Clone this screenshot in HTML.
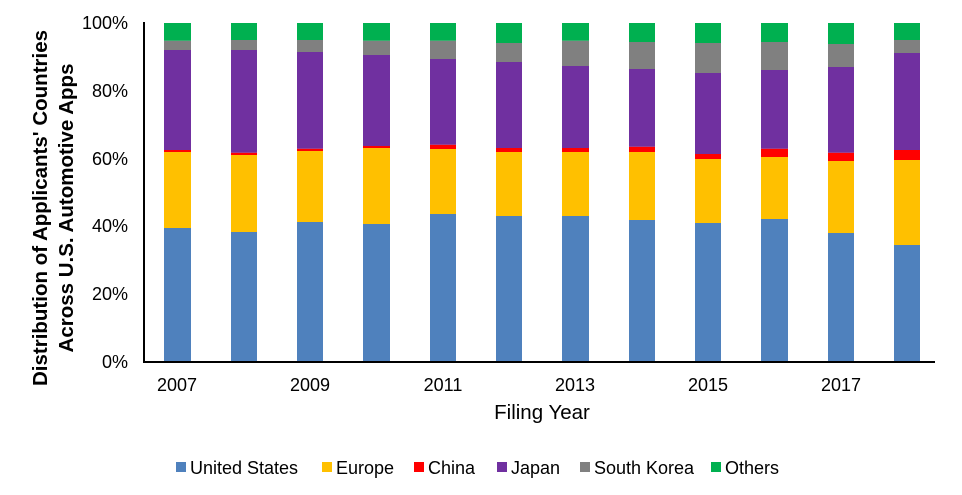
<!DOCTYPE html>
<html><head><meta charset="utf-8"><style>body{margin:0;background:#fff}svg{display:block;font-family:"Liberation Sans",Arial,sans-serif}</style></head><body>
<svg width="962" height="495" viewBox="0 0 962 495">
<g font-size="18" fill="#000" text-anchor="end">
<text x="128" y="29">100%</text><text x="128" y="97">80%</text><text x="128" y="165">60%</text><text x="128" y="232">40%</text><text x="128" y="300">20%</text><text x="128" y="368">0%</text>
</g>
<g>
<rect x="164" y="228" width="27" height="134" fill="#4f81bd"/><rect x="164" y="152" width="27" height="76" fill="#ffc000"/><rect x="164" y="150" width="27" height="2" fill="#ff0000"/><rect x="164" y="50" width="27" height="100" fill="#7030a0"/><rect x="164" y="40.7" width="27" height="9.3" fill="#808080"/><rect x="164" y="23" width="27" height="17.7" fill="#00b050"/>
<rect x="231" y="232" width="26" height="130" fill="#4f81bd"/><rect x="231" y="155" width="26" height="77" fill="#ffc000"/><rect x="231" y="152.7" width="26" height="2.3" fill="#ff0000"/><rect x="231" y="50" width="26" height="102.7" fill="#7030a0"/><rect x="231" y="40" width="26" height="10" fill="#808080"/><rect x="231" y="23" width="26" height="17" fill="#00b050"/>
<rect x="297" y="222" width="26" height="140" fill="#4f81bd"/><rect x="297" y="151" width="26" height="71" fill="#ffc000"/><rect x="297" y="148.7" width="26" height="2.3" fill="#ff0000"/><rect x="297" y="52" width="26" height="96.7" fill="#7030a0"/><rect x="297" y="40" width="26" height="12" fill="#808080"/><rect x="297" y="23" width="26" height="17" fill="#00b050"/>
<rect x="363" y="224" width="27" height="138" fill="#4f81bd"/><rect x="363" y="148" width="27" height="76" fill="#ffc000"/><rect x="363" y="146" width="27" height="2" fill="#ff0000"/><rect x="363" y="55" width="27" height="91" fill="#7030a0"/><rect x="363" y="40.7" width="27" height="14.3" fill="#808080"/><rect x="363" y="23" width="27" height="17.7" fill="#00b050"/>
<rect x="430" y="214" width="26" height="148" fill="#4f81bd"/><rect x="430" y="149" width="26" height="65" fill="#ffc000"/><rect x="430" y="144.7" width="26" height="4.3" fill="#ff0000"/><rect x="430" y="59" width="26" height="85.7" fill="#7030a0"/><rect x="430" y="40.7" width="26" height="18.3" fill="#808080"/><rect x="430" y="23" width="26" height="17.7" fill="#00b050"/>
<rect x="496" y="216" width="26" height="146" fill="#4f81bd"/><rect x="496" y="152" width="26" height="64" fill="#ffc000"/><rect x="496" y="148" width="26" height="4" fill="#ff0000"/><rect x="496" y="62" width="26" height="86" fill="#7030a0"/><rect x="496" y="43" width="26" height="19" fill="#808080"/><rect x="496" y="23" width="26" height="20" fill="#00b050"/>
<rect x="562" y="216" width="27" height="146" fill="#4f81bd"/><rect x="562" y="152" width="27" height="64" fill="#ffc000"/><rect x="562" y="148" width="27" height="4" fill="#ff0000"/><rect x="562" y="66" width="27" height="82" fill="#7030a0"/><rect x="562" y="40.7" width="27" height="25.3" fill="#808080"/><rect x="562" y="23" width="27" height="17.7" fill="#00b050"/>
<rect x="629" y="220" width="26" height="142" fill="#4f81bd"/><rect x="629" y="152" width="26" height="68" fill="#ffc000"/><rect x="629" y="146.7" width="26" height="5.3" fill="#ff0000"/><rect x="629" y="69" width="26" height="77.7" fill="#7030a0"/><rect x="629" y="42" width="26" height="27" fill="#808080"/><rect x="629" y="23" width="26" height="19" fill="#00b050"/>
<rect x="695" y="223" width="26" height="139" fill="#4f81bd"/><rect x="695" y="159" width="26" height="64" fill="#ffc000"/><rect x="695" y="154" width="26" height="5" fill="#ff0000"/><rect x="695" y="73" width="26" height="81" fill="#7030a0"/><rect x="695" y="43" width="26" height="30" fill="#808080"/><rect x="695" y="23" width="26" height="20" fill="#00b050"/>
<rect x="761" y="219" width="27" height="143" fill="#4f81bd"/><rect x="761" y="157" width="27" height="62" fill="#ffc000"/><rect x="761" y="148.7" width="27" height="8.3" fill="#ff0000"/><rect x="761" y="70" width="27" height="78.7" fill="#7030a0"/><rect x="761" y="42" width="27" height="28" fill="#808080"/><rect x="761" y="23" width="27" height="19" fill="#00b050"/>
<rect x="828" y="233" width="26" height="129" fill="#4f81bd"/><rect x="828" y="161" width="26" height="72" fill="#ffc000"/><rect x="828" y="152.7" width="26" height="8.3" fill="#ff0000"/><rect x="828" y="67" width="26" height="85.7" fill="#7030a0"/><rect x="828" y="44" width="26" height="23" fill="#808080"/><rect x="828" y="23" width="26" height="21" fill="#00b050"/>
<rect x="894" y="245" width="26" height="117" fill="#4f81bd"/><rect x="894" y="160" width="26" height="85" fill="#ffc000"/><rect x="894" y="150" width="26" height="10" fill="#ff0000"/><rect x="894" y="53" width="26" height="97" fill="#7030a0"/><rect x="894" y="40" width="26" height="13" fill="#808080"/><rect x="894" y="23" width="26" height="17" fill="#00b050"/>
</g>
<line x1="144" y1="22" x2="144" y2="363" stroke="#000" stroke-width="2"/>
<line x1="143" y1="362" x2="935" y2="362" stroke="#000" stroke-width="2"/>
<g font-size="18" text-anchor="middle">
<text x="177" y="391">2007</text><text x="310" y="391">2009</text><text x="443" y="391">2011</text><text x="575" y="391">2013</text><text x="708" y="391">2015</text><text x="841" y="391">2017</text>
<text x="542" y="419" font-size="20.5">Filing Year</text>
</g>
<g font-size="20.5" font-weight="bold" text-anchor="middle" transform="translate(0,208) rotate(-90)">
<text x="0" y="47">Distribution of Applicants' Countries</text>
<text x="0" y="73">Across U.S. Automotive Apps</text>
</g>
<g font-size="18">
<rect x="176" y="462" width="10" height="10" fill="#4f81bd"/><text x="190" y="474">United States</text>
<rect x="322" y="462" width="10" height="10" fill="#ffc000"/><text x="336" y="474">Europe</text>
<rect x="414" y="462" width="10" height="10" fill="#ff0000"/><text x="428" y="474">China</text>
<rect x="497" y="462" width="10" height="10" fill="#7030a0"/><text x="511" y="474">Japan</text>
<rect x="580" y="462" width="10" height="10" fill="#808080"/><text x="594" y="474">South Korea</text>
<rect x="711" y="462" width="10" height="10" fill="#00b050"/><text x="725" y="474">Others</text>
</g>
</svg>
</body></html>
